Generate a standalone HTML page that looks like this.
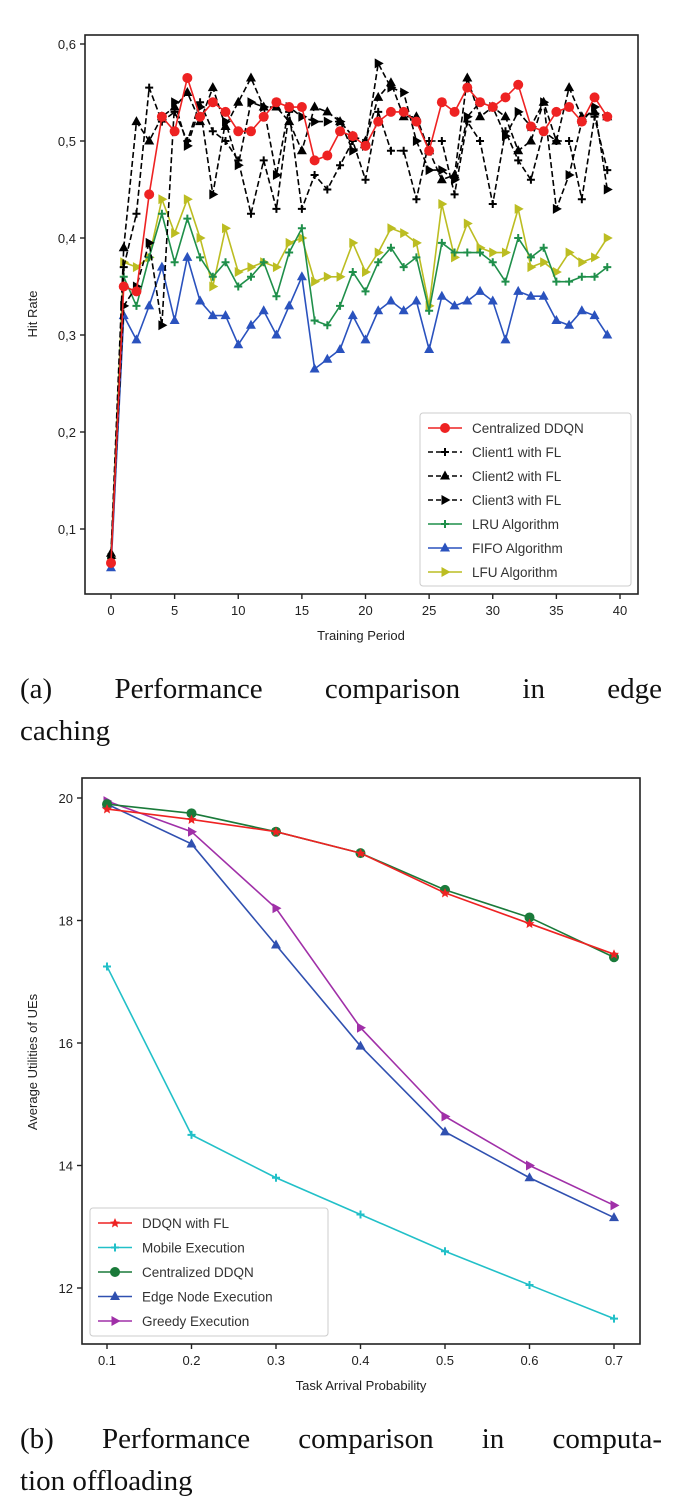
<!DOCTYPE html>
<html><head><meta charset="utf-8"><style>
body{margin:0;background:#fff;width:696px;height:1506px;overflow:hidden;position:relative}
svg{position:absolute;left:0;top:0}
.cap{position:absolute;left:20px;width:642px;font-family:"Liberation Serif",serif;font-size:29px;line-height:42px;color:#111;text-align:justify;text-align-last:left}
</style></head><body>
<svg id="c" width="696" height="1506" font-family="Liberation Sans, sans-serif"></svg>
<div class="cap" style="top:668px;text-align-last:justify;">(a) Performance comparison in edge</div>
<div class="cap" style="top:710px">caching</div>
<div class="cap" style="top:1418px;text-align-last:justify;">(b) Performance comparison in computa-</div>
<div class="cap" style="top:1460px">tion offloading</div>
<script>
const periods=[...Array(40).keys()];
const centralized=[0.065,0.35,0.345,0.445,0.525,0.51,0.565,0.525,0.54,0.53,0.51,0.51,0.525,0.54,0.535,0.535,0.48,0.485,0.51,0.505,0.495,0.52,0.53,0.53,0.52,0.49,0.54,0.53,0.555,0.54,0.535,0.545,0.558,0.515,0.51,0.53,0.535,0.52,0.545,0.525];
const client1=[0.065,0.37,0.425,0.555,0.52,0.53,0.5,0.54,0.51,0.5,0.48,0.425,0.48,0.43,0.53,0.43,0.465,0.45,0.475,0.5,0.46,0.53,0.49,0.49,0.44,0.5,0.5,0.445,0.52,0.5,0.435,0.51,0.48,0.46,0.51,0.5,0.5,0.44,0.525,0.47];
const client2=[0.075,0.39,0.52,0.5,0.525,0.535,0.55,0.52,0.555,0.515,0.54,0.565,0.535,0.535,0.52,0.49,0.535,0.53,0.52,0.505,0.5,0.545,0.56,0.525,0.525,0.49,0.46,0.465,0.565,0.525,0.535,0.525,0.49,0.5,0.54,0.5,0.555,0.525,0.53,0.525];
const client3=[0.07,0.33,0.35,0.395,0.31,0.54,0.495,0.535,0.445,0.52,0.475,0.54,0.535,0.465,0.535,0.525,0.52,0.52,0.52,0.49,0.495,0.58,0.555,0.55,0.5,0.47,0.47,0.46,0.525,0.54,0.535,0.505,0.53,0.515,0.54,0.43,0.465,0.52,0.535,0.45];
const lru=[0.07,0.36,0.33,0.38,0.425,0.375,0.42,0.38,0.36,0.375,0.35,0.36,0.375,0.34,0.385,0.41,0.315,0.31,0.33,0.365,0.345,0.375,0.39,0.37,0.38,0.325,0.395,0.385,0.385,0.385,0.375,0.355,0.4,0.38,0.39,0.355,0.355,0.36,0.36,0.37];
const fifo=[0.06,0.32,0.295,0.33,0.37,0.315,0.38,0.335,0.32,0.32,0.29,0.31,0.325,0.3,0.33,0.36,0.265,0.275,0.285,0.32,0.295,0.325,0.335,0.325,0.335,0.285,0.34,0.33,0.335,0.345,0.335,0.295,0.345,0.34,0.34,0.315,0.31,0.325,0.32,0.3];
const lfu=[0.07,0.375,0.37,0.38,0.44,0.405,0.44,0.4,0.35,0.41,0.365,0.37,0.375,0.37,0.395,0.4,0.355,0.36,0.36,0.395,0.365,0.385,0.41,0.405,0.395,0.33,0.435,0.38,0.415,0.39,0.385,0.385,0.43,0.37,0.375,0.365,0.385,0.375,0.38,0.4];
const xTicksA=[0,5,10,15,20,25,30,35,40];
const yTicksA=[0.1,0.2,0.3,0.4,0.5,0.6];
const probs=[0.1,0.2,0.3,0.4,0.5,0.6,0.7];
const ddqnFL=[19.82,19.65,19.45,19.1,18.45,17.95,17.45];
const mobile=[17.25,14.5,13.8,13.2,12.6,12.05,11.5];
const centralB=[19.9,19.75,19.45,19.1,18.5,18.05,17.4];
const edge=[19.9,19.25,17.6,15.95,14.55,13.8,13.15];
const greedy=[19.95,19.45,18.2,16.25,14.8,14.0,13.35];
const xTicksB=[0.1,0.2,0.3,0.4,0.5,0.6,0.7];
const yTicksB=[12,14,16,18,20];

const S=document.getElementById('c');const NS='http://www.w3.org/2000/svg';
function el(t,a,p){const e=document.createElementNS(NS,t);for(const k in a)e.setAttribute(k,a[k]);(p||S).appendChild(e);return e;}
function marker(type,x,y,col,g,r){r=r||4.5;
 if(type==='o')return el('circle',{cx:x,cy:y,r:r+0.5,fill:col},g);
 if(type==='+'){const p=el('path',{d:`M${x-4} ${y}H${x+4}M${x} ${y-4}V${y+4}`,stroke:col,'stroke-width':2},g);return p;}
 if(type==='^')return el('path',{d:`M${x} ${y-r-1}L${x+r+0.5} ${y+r-1}L${x-r-0.5} ${y+r-1}Z`,fill:col},g);
 if(type==='>')return el('path',{d:`M${x+r+1} ${y}L${x-r+1} ${y-r-0.5}L${x-r+1} ${y+r+0.5}Z`,fill:col},g);
 if(type==='*')return el('path',{d:`M${x} ${y-5}L${x+1.5} ${y-1.5}L${x+5} ${y-1.3}L${x+2.3} ${y+1}L${x+3} ${y+4.5}L${x} ${y+2.5}L${x-3} ${y+4.5}L${x-2.3} ${y+1}L${x-5} ${y-1.3}L${x-1.5} ${y-1.5}Z`,fill:col},g);
}
// Chart A
const A={l:85,r:638,t:35,b:594};
const xA=v=>111+v*(620-111)/40, yA=v=>529-(v-0.1)*970;
function axes(B,xt,yt,xs,ys,fmtx,fmty,pre){
 const ax=el('g',{});
 el('rect',{x:B.l,y:B.t,width:B.r-B.l,height:B.b-B.t,fill:'none',stroke:'#222','stroke-width':1.6},ax);
 xt.forEach(v=>{const x=xs(v);el('line',{x1:x,x2:x,y1:B.b,y2:B.b+5,stroke:'#222','stroke-width':1.4},ax);
  const t=el('text',{x:x,y:B.b+21,'text-anchor':'middle','font-size':13,fill:'#222'},ax);t.textContent=fmtx(v);});
 yt.forEach(v=>{const y=ys(v);el('line',{x1:B.l-5,x2:B.l,y1:y,y2:y,stroke:'#222','stroke-width':1.4},ax);
  const t=el('text',{x:B.l-9,y:y+5,'text-anchor':'end','font-size':13,fill:'#222'},ax);t.textContent=fmty(v);});
}
axes(A,xTicksA,yTicksA,xA,yA,v=>String(v),v=>v.toFixed(1).replace('.',','),'chart-a');
let t=el('text',{x:361,y:640,'text-anchor':'middle','font-size':13,fill:'#222'});t.textContent='Training Period';

t=el('text',{x:0,y:0,'text-anchor':'middle','font-size':13,fill:'#222',transform:'translate(37,314) rotate(-90)'});t.textContent='Hit Rate';

function series(xs,ys,X,Y,col,mk,dash,name,r){
 const g=el('g',{});
 el('polyline',{points:xs.map((x,i)=>X(x)+','+Y(ys[i])).join(' '),fill:'none',stroke:col,'stroke-width':1.6,'stroke-dasharray':dash||'none'},g);
 xs.forEach((x,i)=>marker(mk,X(x),Y(ys[i]),col,g,r));
}
series(periods,lfu,xA,yA,'#bcbd22','>',null,'series-lfu');
series(periods,fifo,xA,yA,'#2a52be','^',null,'series-fifo');
series(periods,lru,xA,yA,'#1f8f4a','+',null,'series-lru');
series(periods,client3,xA,yA,'#000','>','6,3','series-client3');
series(periods,client2,xA,yA,'#000','^','6,3','series-client2');
series(periods,client1,xA,yA,'#000','+','6,3','series-client1');
series(periods,centralized,xA,yA,'#ee2222','o',null,'series-centralized-ddqn');
function legend(x,y,w,h,items,pre,gap){
 const g=el('g',{});
 el('rect',{x:x,y:y,width:w,height:h,fill:'#fff',stroke:'#ccc',rx:3},g);
 items.forEach((it,i)=>{const yy=y+15+i*gap;
  el('line',{x1:x+8,x2:x+42,y1:yy,y2:yy,stroke:it[1],'stroke-width':1.6,'stroke-dasharray':it[3]||'none'},g);
  marker(it[2],x+25,yy,it[1],g);
  const tt=el('text',{x:x+52,y:yy+5,'font-size':13.5,fill:'#333'},g);tt.textContent=it[0];});
}
legend(420,413,211,173,[['Centralized DDQN','#ee2222','o'],['Client1 with FL','#000','+','5,3'],['Client2 with FL','#000','^','5,3'],['Client3 with FL','#000','>','5,3'],['LRU Algorithm','#1f8f4a','+'],['FIFO Algorithm','#2a52be','^'],['LFU Algorithm','#bcbd22','>']],'legend-a',24);
// Chart B
const B={l:82,r:640,t:778,b:1344};
const xB=v=>107+(v-0.1)*(614-107)/0.6, yB=v=>798+(20-v)*61.25;
axes(B,xTicksB,yTicksB,xB,yB,v=>v.toFixed(1),v=>String(v),'chart-b');
t=el('text',{x:361,y:1390,'text-anchor':'middle','font-size':13,fill:'#222'});t.textContent='Task Arrival Probability';

t=el('text',{x:0,y:0,'text-anchor':'middle','font-size':13,fill:'#222',transform:'translate(37,1062) rotate(-90)'});t.textContent='Average Utilities of UEs';

series(probs,mobile,xB,yB,'#22c0c8','+',null,'series-mobile');
series(probs,edge,xB,yB,'#3050b0','^',null,'series-edge');
series(probs,greedy,xB,yB,'#a030a8','>',null,'series-greedy');
series(probs,centralB,xB,yB,'#1a7a3a','o',null,'series-centralized-b');
series(probs,ddqnFL,xB,yB,'#ee2222','*',null,'series-ddqn-fl');
legend(90,1208,238,128,[['DDQN with FL','#ee2222','*'],['Mobile Execution','#22c0c8','+'],['Centralized DDQN','#1a7a3a','o'],['Edge Node Execution','#3050b0','^'],['Greedy Execution','#a030a8','>']],'legend-b',24.5);
</script>
</body></html>
